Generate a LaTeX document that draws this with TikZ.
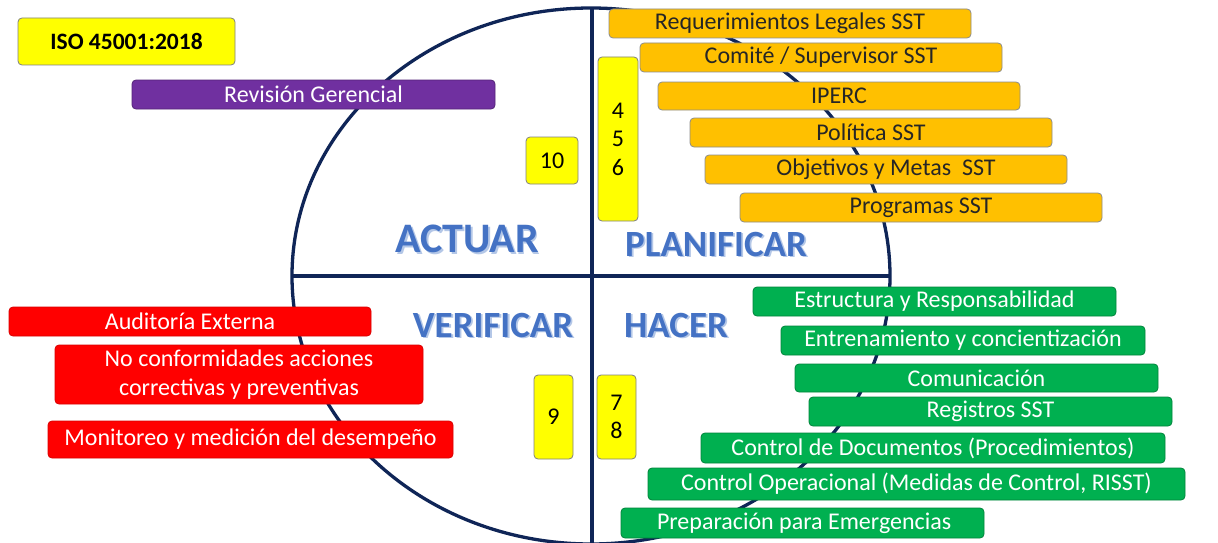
\documentclass[tikz,border=0pt]{standalone}
\usepackage{fontspec}
\setmainfont{Carlito}
\definecolor{navy}{HTML}{0F2557}
\definecolor{orng}{HTML}{FFC000}
\definecolor{grn}{HTML}{00B050}
\definecolor{rd}{HTML}{FF0000}
\definecolor{purp}{HTML}{7030A0}
\definecolor{yel}{HTML}{FFFF00}
\definecolor{bigblue}{HTML}{4472C4}
\definecolor{shade}{HTML}{B4C7E7}
\definecolor{dtext}{HTML}{262626}
\newcommand\bx[7]{\node[#6, minimum width={(#4-#2)*1pt}, minimum height={(#5-#3)*1pt}] (#1) at ({(#2+#4)/2},{(#3+#5)/2}) {#7};}
\newcommand\phaselabel[5]{\node[text=shade, font=\fontsize{#4}{#4}\selectfont\bfseries] at ({#2+1.8},{#3+1.8}) {#5};
\node[text=bigblue, font=\fontsize{#4}{#4}\selectfont\bfseries] (#1) at (#2,#3) {#5};}
\tikzset{
  basebox/.style={rounded corners=4pt, line width=0.8pt, inner sep=0pt, align=center, font=\fontsize{24}{29}\selectfont},
  obox/.style={basebox, fill=orng, draw=black!45, text=dtext},
  gbox/.style={basebox, fill=grn, draw=grn!75!black, text=white},
  rbox/.style={basebox, fill=rd, draw=rd!85!black, text=white},
  pbox/.style={basebox, fill=purp, draw=purp!75!black, text=white},
  ybox/.style={basebox, fill=yel, draw=black!50, text=black, font=\fontsize{24}{28.5}\selectfont},
}
\begin{document}
\begin{tikzpicture}[x=1pt,y=-1pt]
\useasboundingbox (0,0) rectangle (1218,543);
\fill[white] (0,0) rectangle (1218,543);
% cycle
\coordinate (c) at (591,276);
\draw[navy, line width=3.3pt] (c) ellipse [x radius=299pt, y radius=268pt];
\coordinate (vt) at (592,8); \coordinate (vb) at (592,543);
\coordinate (hl) at (292,276); \coordinate (hr) at (890,276);
\draw[navy, line width=3.3pt] (vt) -- (vb);
\draw[navy, line width=3.3pt] (hl) -- (hr);
% big labels
\phaselabel{actuar}{467}{239}{42}{ACTUAR}
\phaselabel{planificar}{716}{244}{37}{PLANIFICAR}
\phaselabel{verificar}{493}{325}{37}{VERIFICAR}
\phaselabel{hacer}{676}{325}{37}{HACER}
% title
\bx{iso}{18}{18}{235}{65}{ybox, font=\fontsize{23.5}{23.5}\selectfont\bfseries}{ISO 45001:2018}
\bx{rev}{132}{80}{495}{109}{pbox}{Revisión Gerencial}
% numbers
\bx{n10}{526}{137}{578}{184}{ybox}{10}
\bx{n456}{598}{57}{638}{221}{ybox}{4\\5\\6}
\bx{n9}{534}{375}{573}{459}{ybox}{9}
\bx{n78}{597}{375}{636}{459}{ybox}{7\\8}
% planificar
\bx{o1}{609}{9}{971}{38}{obox}{Requerimientos Legales SST}
\bx{o2}{640}{43}{1002}{72}{obox}{Comité / Supervisor SST}
\bx{o3}{658}{82}{1020}{110}{obox}{IPERC}
\bx{o4}{690}{118}{1052}{147}{obox}{Política SST}
\bx{o5}{705}{155}{1067}{184}{obox}{Objetivos y Metas\ \ SST}
\bx{o6}{740}{193}{1102}{222}{obox}{Programas SST}
% verificar
\bx{r1}{9}{307}{371}{336}{rbox}{Auditoría Externa}
\bx{r2}{55}{345}{423}{404}{rbox}{No conformidades acciones\\correctivas y preventivas}
\bx{r3}{48}{421}{453}{458}{rbox}{Monitoreo y medición del desempeño}
% hacer
\bx{g1}{753}{287}{1116}{316}{gbox}{Estructura y Responsabilidad}
\bx{g2}{781}{326}{1145}{355}{gbox}{Entrenamiento y concientización}
\bx{g3}{795}{364}{1158}{392}{gbox}{Comunicación}
\bx{g4}{809}{397}{1172}{426}{gbox}{Registros SST}
\bx{g5}{701}{433}{1165}{463}{gbox}{Control de Documentos (Procedimientos)}
\bx{g6}{648}{468}{1185}{500}{gbox}{Control Operacional (Medidas de Control, RISST)}
\node[gbox, minimum width=363pt, minimum height=30pt] (g7) at (802.5,523) {\makebox[291pt][l]{Preparación para Emergencias}};
\end{tikzpicture}
\end{document}
